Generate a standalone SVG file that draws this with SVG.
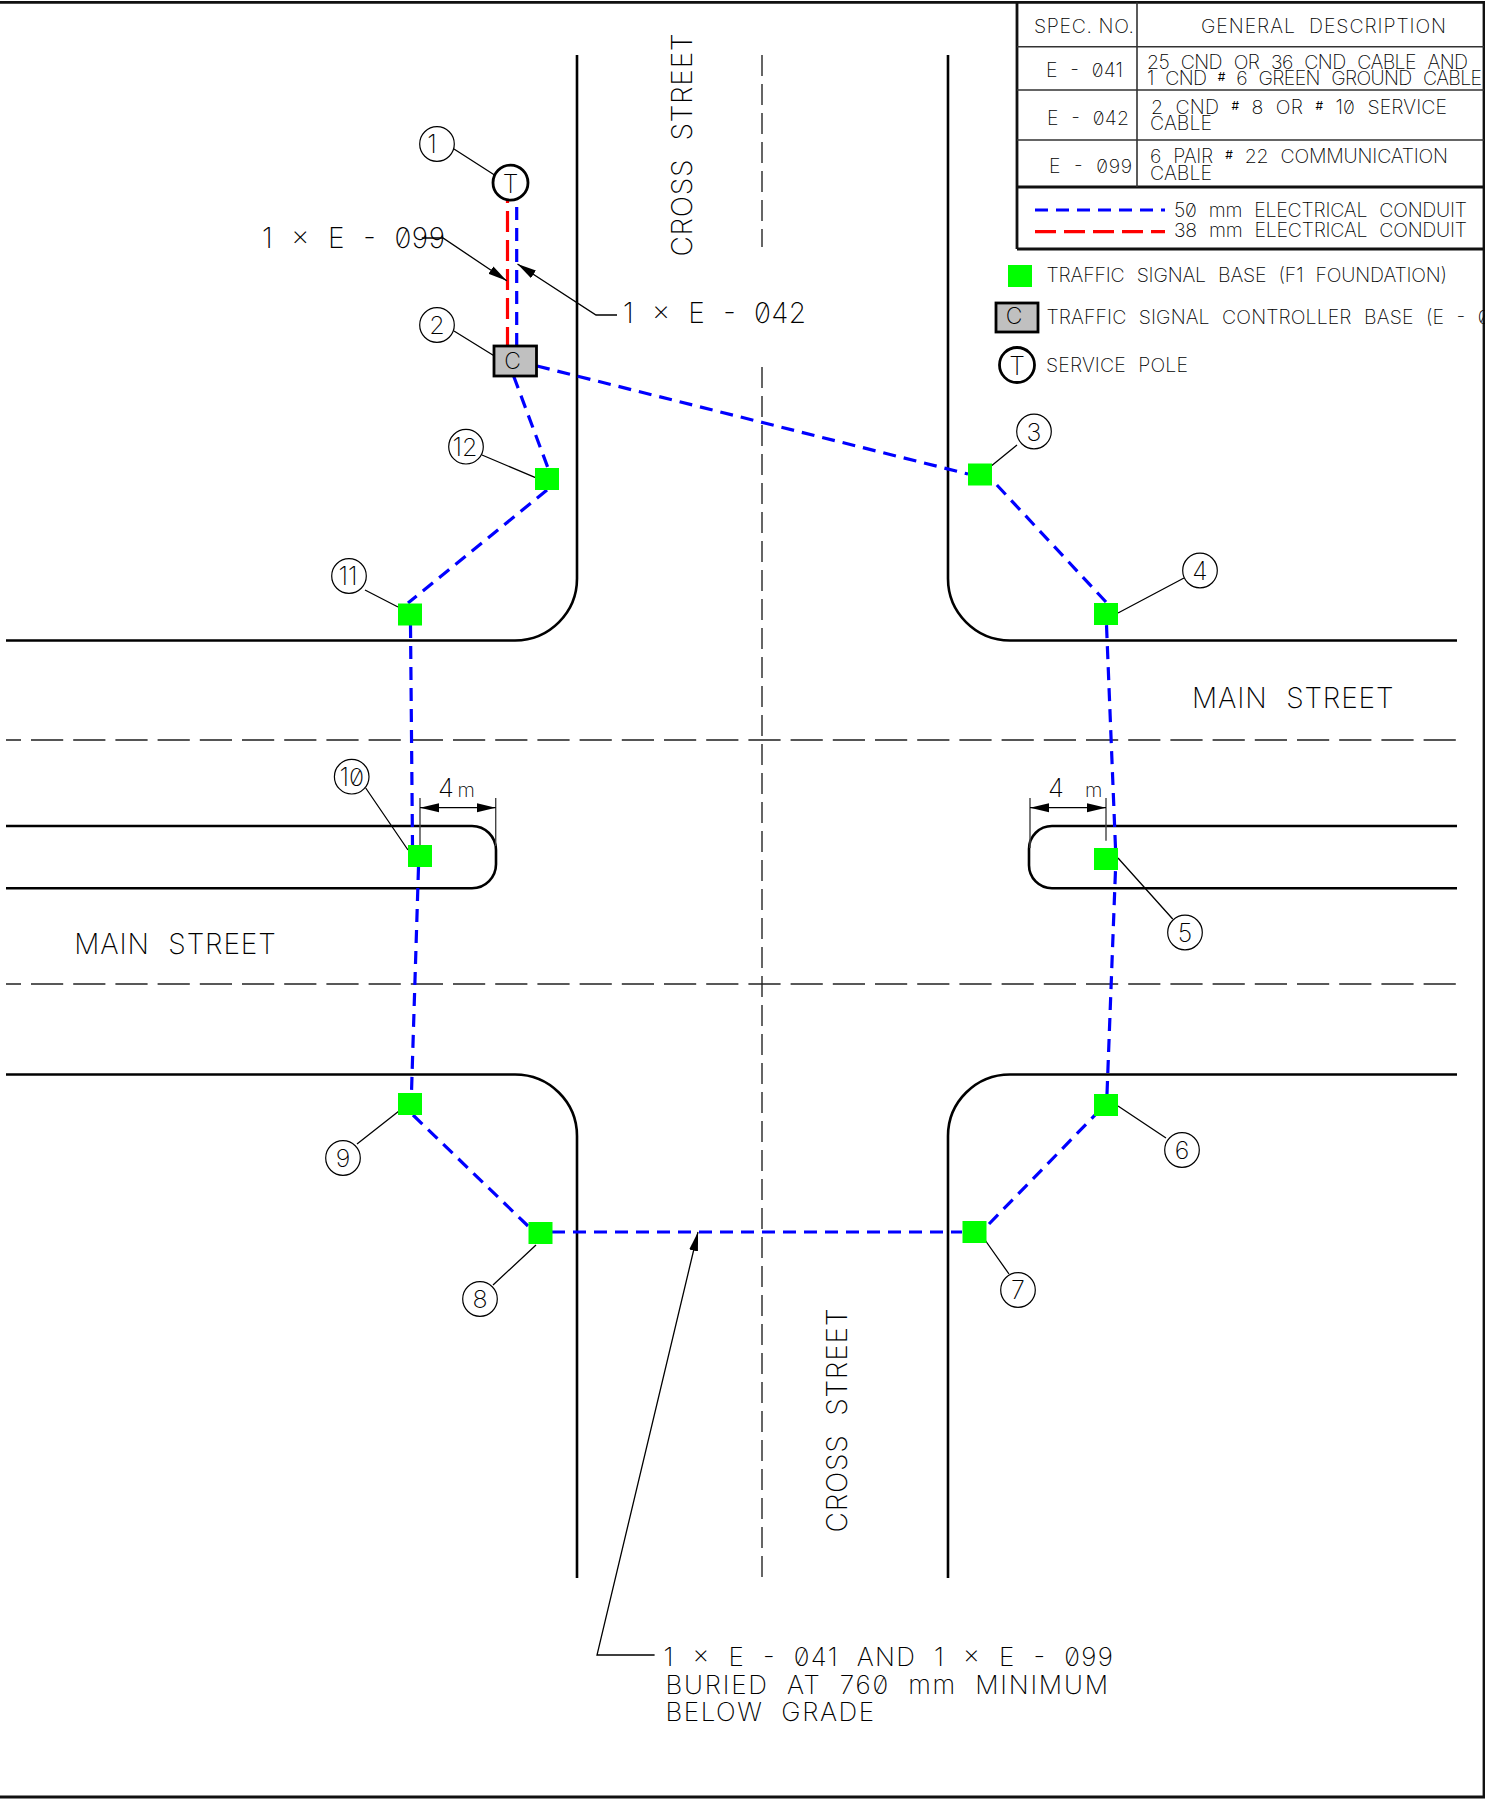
<svg xmlns="http://www.w3.org/2000/svg" width="1485" height="1800" viewBox="0 0 1485 1800">
<style>
text{font-family:Inter,"Liberation Sans",sans-serif;font-weight:200;fill:#000;font-variant-numeric:slashed-zero;word-spacing:.35em}
.s{font-size:19.5px}.m{font-size:26px}.l{font-size:28px}.c{font-size:25px;text-anchor:middle;word-spacing:0}
.h{font-size:12px;font-weight:400}
.road{fill:none;stroke:#000;stroke-width:2.6}
.cl{fill:none;stroke:#333;stroke-width:1.5;stroke-dasharray:21 8}
.chl{fill:none;stroke:#555;stroke-width:2;stroke-dasharray:32.200 10;stroke-dashoffset:17.200}
.chl2{fill:none;stroke:#222;stroke-width:1.4;stroke-dasharray:32.200 10;stroke-dashoffset:17.200}
.blue{fill:none;stroke:#00f;stroke-width:3.200;stroke-dasharray:13 8}
.red{fill:none;stroke:#f00;stroke-width:3.200;stroke-dasharray:21 8}
.tb{fill:none;stroke:#111;stroke-width:2.8}
.tn{fill:none;stroke:#333;stroke-width:1.6}
.ld{fill:none;stroke:#000;stroke-width:1.3}
.ext{fill:none;stroke:#444;stroke-width:1.4}
.base{fill:#0f0}
.co{fill:#fff;stroke:#000;stroke-width:1.2}
.ctrl{fill:#c0c0c0;stroke:#000;stroke-width:2.8}
.pole{fill:#fff;stroke:#000;stroke-width:2.8}
</style>
<defs>
<marker id="ah" markerUnits="userSpaceOnUse" markerWidth="20" markerHeight="10" refX="19" refY="5" orient="auto-start-reverse"><path d="M0,0.5 L19,5 L0,9.500z" fill="#000"/></marker>
</defs>
<g id="frame">
<path class="tb" d="M0,2.300H1484V1797H0"/>
</g>
<g id="roads">
<path class="road" d="M577,55V578A62,62 0 0 1 515,640.500H6"/>
<path class="road" d="M948,55V578A62,62 0 0 0 1010,640.500H1457"/>
<path class="road" d="M6,1074.500H515A62,61.500 0 0 1 577,1136V1578"/>
<path class="road" d="M1457,1074.500H1010A62,61.500 0 0 0 948,1136V1578"/>
<path class="road" d="M6,826H472A24,24 0 0 1 496,850V864A24,24 0 0 1 472,888.300H6"/>
<path class="road" d="M1457,826H1052A23,23 0 0 0 1029,849V865A23,23 0 0 0 1052,888.300H1457"/>
<path class="cl" d="M762,55V247M762,367V1578"/>
<path class="chl" d="M6,740H1457"/>
<path class="chl2" d="M6,984H1457"/>
</g>
<g id="connectors">
<path class="red" style="stroke-dashoffset:2" d="M507.500,346V197"/>
<path class="blue" d="M516.700,207V346"/>
<path class="blue" d="M537,366L968,474"/>
<path class="blue" d="M513.600,376L548,468"/>
<path class="blue" d="M547,490L408,603"/>
<path class="blue" d="M410.500,625L412.500,845"/>
<path class="blue" d="M418.500,867L411.500,1092"/>
<path class="blue" d="M413,1115L528,1226"/>
<path class="blue" d="M552,1232H962"/>
<path class="blue" d="M989,1224L1099,1111"/>
<path class="blue" d="M1107,1094L1115.500,870"/>
<path class="blue" d="M1115.500,848L1106.500,625"/>
<path class="blue" d="M1106,602L995,483"/>
<path class="ld" d="M454,149L494.500,175M454,331L494,355.700M482,455L535.500,477.700M1017,445L990,467M1184,578L1118,613M1172.700,919L1118,858M1166,1138L1118,1106M1009,1274L985,1240M493,1285L536,1245M357,1144L399,1111M365.700,788L408,850M365,590L398,607"/>
<path class="ld" marker-end="url(#ah)" d="M421.800,238H443L506.700,280.700"/>
<path class="ld" marker-end="url(#ah)" d="M617,315H596L517.500,264"/>
<path class="ld" marker-end="url(#ah)" d="M654.600,1655H597L698,1232"/>
<path class="ext" d="M420,798V845M495.700,798V846M1030,798V848M1106,798V840.700"/>
<path class="ld" marker-start="url(#ah)" marker-end="url(#ah)" d="M420,807.700H495.700"/>
<path class="ld" marker-start="url(#ah)" marker-end="url(#ah)" d="M1030,807.700H1106"/>
</g>
<g id="n1"><circle class="pole" cx="510.500" cy="182.700" r="17.500"/><text class="c" x="510.500" y="192.500">T</text><circle class="co" cx="437" cy="144" r="17.300"/><text class="c" x="432" y="153">1</text></g>
<g id="n2"><rect class="ctrl" x="494" y="346" width="42.500" height="30"/><text class="c" x="512.500" y="369" style="font-size:23px">C</text><circle class="co" cx="437" cy="325" r="17.300"/><text class="c" x="437" y="334">2</text></g>
<g id="n3"><rect class="base" x="968" y="463.500" width="24" height="22"/><circle class="co" cx="1034" cy="431.500" r="17.300"/><text class="c" x="1034" y="440.500">3</text></g>
<g id="n4"><rect class="base" x="1094" y="603" width="24" height="22"/><circle class="co" cx="1200" cy="570.500" r="17.300"/><text class="c" x="1200" y="579.500">4</text></g>
<g id="n5"><rect class="base" x="1094" y="848" width="24" height="22"/><circle class="co" cx="1185" cy="932.500" r="17.300"/><text class="c" x="1185" y="941.500">5</text></g>
<g id="n6"><rect class="base" x="1094" y="1094" width="24" height="22"/><circle class="co" cx="1182" cy="1150" r="17.300"/><text class="c" x="1182" y="1159">6</text></g>
<g id="n7"><rect class="base" x="962.500" y="1221" width="24" height="22"/><circle class="co" cx="1018" cy="1290" r="17.300"/><text class="c" x="1018" y="1299">7</text></g>
<g id="n8"><rect class="base" x="528.500" y="1222" width="24" height="22"/><circle class="co" cx="480" cy="1299" r="17.300"/><text class="c" x="480" y="1308">8</text></g>
<g id="n9"><rect class="base" x="398" y="1093" width="24" height="22"/><circle class="co" cx="343" cy="1158" r="17.300"/><text class="c" x="343" y="1167">9</text></g>
<g id="n10"><rect class="base" x="408" y="845" width="24" height="22"/><circle class="co" cx="351.700" cy="776.700" r="17.300"/><text class="c" x="351.700" y="786">10</text></g>
<g id="n11"><rect class="base" x="398" y="603.500" width="24" height="22"/><circle class="co" cx="349" cy="576" r="17.300"/><text class="c" x="348" y="585">11</text></g>
<g id="n12"><rect class="base" x="535" y="468" width="24" height="22"/><circle class="co" cx="466" cy="446.700" r="17.300"/><text class="c" x="465" y="456">12</text></g>
<g id="table">
<path class="tb" d="M1017,2.300V249M1017,187H1484M1017,249H1484"/>
<path class="tn" d="M1137,2.300V187M1017,46.700H1484M1017,90H1484M1017,140H1484"/>
<text class="s" x="1034" y="32.700" textLength="100" style="word-spacing:0">SPEC. NO.</text>
<text class="s" x="1201" y="32.700" textLength="245">GENERAL DESCRIPTION</text>
<text class="s" x="1046" y="76.700" textLength="77">E - 041</text>
<text class="s" x="1147" y="69" textLength="321">25 CND OR 36 CND CABLE AND</text>
<text class="s" x="1147" y="85" textLength="335">1 CND <tspan class="h" dy="-4">#</tspan><tspan dy="4"> 6 GREEN GROUND CABLE</tspan></text>
<text class="s" x="1047" y="124.700" textLength="82">E - 042</text>
<text class="s" x="1151" y="114" textLength="296">2 CND <tspan class="h" dy="-4">#</tspan><tspan dy="4"> 8 OR </tspan><tspan class="h" dy="-4">#</tspan><tspan dy="4"> 10 SERVICE</tspan></text>
<text class="s" x="1150" y="130" textLength="62">CABLE</text>
<text class="s" x="1049" y="173" textLength="83">E - 099</text>
<text class="s" x="1150" y="163" textLength="298">6 PAIR <tspan class="h" dy="-4">#</tspan><tspan dy="4"> 22 COMMUNICATION</tspan></text>
<text class="s" x="1150" y="180" textLength="62">CABLE</text>
</g>
<g id="legend">
<path class="blue" d="M1035,210H1165"/>
<path class="red" d="M1035,231.700H1165"/>
<text class="s" x="1174" y="216.700" textLength="293">50 mm ELECTRICAL CONDUIT</text>
<text class="s" x="1174" y="237" textLength="293">38 mm ELECTRICAL CONDUIT</text>
<rect class="base" x="1008" y="265" width="24" height="22"/>
<text class="s" x="1046.500" y="282" textLength="400.500">TRAFFIC SIGNAL BASE (F1 FOUNDATION)</text>
<rect class="ctrl" x="996" y="303" width="42" height="29"/>
<text class="c" x="1014" y="324" style="font-size:23px">C</text>
<text class="s" x="1046.500" y="324" textLength="443">TRAFFIC SIGNAL CONTROLLER BASE (E - 0</text>
<circle class="pole" cx="1017" cy="365" r="17.500"/>
<text class="c" x="1017" y="374.500">T</text>
<text class="s" x="1046" y="372" textLength="142">SERVICE POLE</text>
</g>
<g id="labels">
<text class="l" x="262" y="248" textLength="183">1 × E - 099</text>
<text class="l" x="623" y="323" textLength="183">1 × E - 042</text>
<text class="l" transform="translate(691.600,256.500) rotate(-90)" textLength="223">CROSS STREET</text>
<text class="l" transform="translate(847,1532.500) rotate(-90)" textLength="224">CROSS STREET</text>
<text class="l" x="1192" y="708" textLength="201.500">MAIN STREET</text>
<text class="l" x="74.200" y="953.600" textLength="201.500">MAIN STREET</text>
<text class="m" x="438 457.500" y="797">4<tspan style="font-size:20px">m</tspan></text>
<text class="m" x="1048 1085" y="797">4<tspan style="font-size:20px">m</tspan></text>
<text class="m" x="663.500" y="1665.700" textLength="449.500">1 × E - 041 AND 1 × E - 099</text>
<text class="m" x="665.500" y="1694" textLength="442.500">BURIED AT 760 mm MINIMUM</text>
<text class="m" x="665.500" y="1721" textLength="208.500">BELOW GRADE</text>
</g>
</svg>
